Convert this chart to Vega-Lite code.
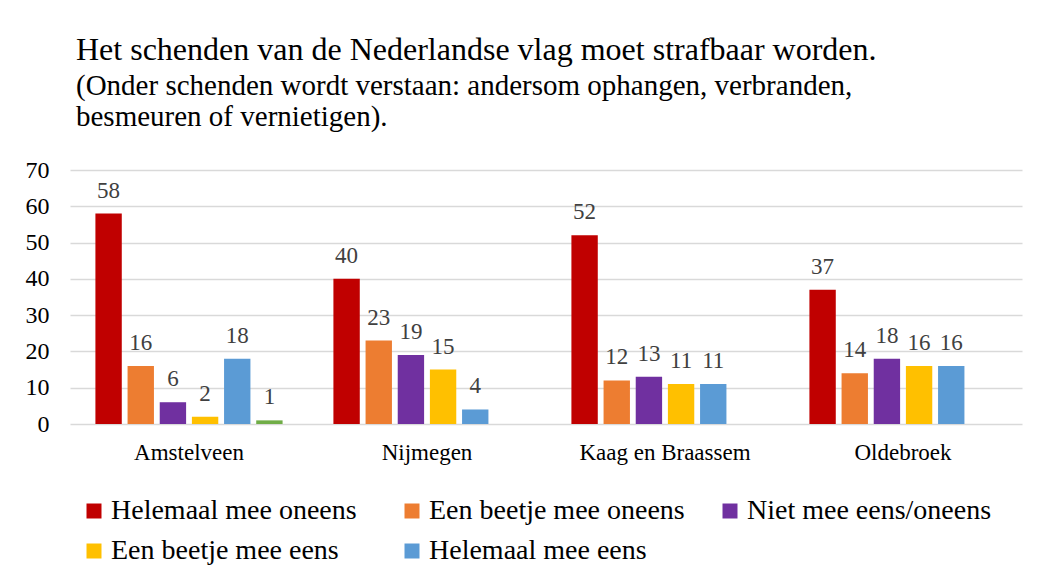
{
  "$schema": "https://vega.github.io/schema/vega-lite/v6.json",
  "autosize": {"type": "none"},
  "width": 952,
  "height": 254,
  "padding": {"left": 70, "top": 170, "right": 23, "bottom": 155},
  "background": "white",
  "title": {
    "text": "Het schenden van de Nederlandse vlag moet strafbaar worden.",
    "subtitle": ["(Onder schenden wordt verstaan: andersom ophangen, verbranden,", "besmeuren of vernietigen)."],
    "anchor": "start",
    "dx": 51,
    "offset": 25,
    "font": "Liberation Serif, Times New Roman, serif",
    "fontSize": 32,
    "fontWeight": "normal",
    "color": "#000000",
    "subtitleFont": "Liberation Serif, Times New Roman, serif",
    "subtitleFontSize": 29,
    "subtitleColor": "#000000",
    "subtitleLineHeight": 31,
    "subtitlePadding": 5
  },
  "data": {
    "values": [
      {"gemeente": "Amstelveen", "categorie": "Helemaal mee oneens", "waarde": 58},
      {"gemeente": "Amstelveen", "categorie": "Een beetje mee oneens", "waarde": 16},
      {"gemeente": "Amstelveen", "categorie": "Niet mee eens/oneens", "waarde": 6},
      {"gemeente": "Amstelveen", "categorie": "Een beetje mee eens", "waarde": 2},
      {"gemeente": "Amstelveen", "categorie": "Helemaal mee eens", "waarde": 18},
      {"gemeente": "Amstelveen", "categorie": "Geen mening", "waarde": 1},
      {"gemeente": "Nijmegen", "categorie": "Helemaal mee oneens", "waarde": 40},
      {"gemeente": "Nijmegen", "categorie": "Een beetje mee oneens", "waarde": 23},
      {"gemeente": "Nijmegen", "categorie": "Niet mee eens/oneens", "waarde": 19},
      {"gemeente": "Nijmegen", "categorie": "Een beetje mee eens", "waarde": 15},
      {"gemeente": "Nijmegen", "categorie": "Helemaal mee eens", "waarde": 4},
      {"gemeente": "Kaag en Braassem", "categorie": "Helemaal mee oneens", "waarde": 52},
      {"gemeente": "Kaag en Braassem", "categorie": "Een beetje mee oneens", "waarde": 12},
      {"gemeente": "Kaag en Braassem", "categorie": "Niet mee eens/oneens", "waarde": 13},
      {"gemeente": "Kaag en Braassem", "categorie": "Een beetje mee eens", "waarde": 11},
      {"gemeente": "Kaag en Braassem", "categorie": "Helemaal mee eens", "waarde": 11},
      {"gemeente": "Oldebroek", "categorie": "Helemaal mee oneens", "waarde": 37},
      {"gemeente": "Oldebroek", "categorie": "Een beetje mee oneens", "waarde": 14},
      {"gemeente": "Oldebroek", "categorie": "Niet mee eens/oneens", "waarde": 18},
      {"gemeente": "Oldebroek", "categorie": "Een beetje mee eens", "waarde": 16},
      {"gemeente": "Oldebroek", "categorie": "Helemaal mee eens", "waarde": 16}
    ]
  },
  "encoding": {
    "x": {
      "field": "gemeente",
      "type": "nominal",
      "sort": ["Amstelveen", "Nijmegen", "Kaag en Braassem", "Oldebroek"],
      "scale": {"paddingInner": 0.2, "paddingOuter": 0.1},
      "axis": {
        "title": null,
        "labelAngle": 0,
        "labelFont": "Liberation Serif, Times New Roman, serif",
        "labelFontSize": 23,
        "labelColor": "#000000",
        "labelPadding": 17,
        "ticks": false,
        "domain": false
      }
    },
    "xOffset": {
      "field": "categorie",
      "type": "nominal",
      "scale": {
        "domain": ["Helemaal mee oneens", "Een beetje mee oneens", "Niet mee eens/oneens", "Een beetje mee eens", "Helemaal mee eens", "Geen mening"],
        "paddingInner": 0.18,
        "paddingOuter": 0.05
      }
    },
    "y": {
      "field": "waarde",
      "type": "quantitative",
      "scale": {"domain": [0, 70], "nice": false},
      "axis": {
        "title": null,
        "values": [0, 10, 20, 30, 40, 50, 60, 70],
        "labelFont": "Liberation Serif, Times New Roman, serif",
        "labelFontSize": 24,
        "labelColor": "#000000",
        "labelPadding": 21,
        "ticks": false,
        "domain": false,
        "gridColor": "#d9d9d9",
        "gridWidth": 1.5
      }
    }
  },
  "layer": [
    {
      "mark": {"type": "bar"},
      "encoding": {
        "color": {
          "field": "categorie",
          "type": "nominal",
          "scale": {
            "domain": ["Helemaal mee oneens", "Een beetje mee oneens", "Niet mee eens/oneens", "Een beetje mee eens", "Helemaal mee eens", "Geen mening"],
            "range": ["#C00000", "#ED7D31", "#7030A0", "#FFC000", "#5B9BD5", "#70AD47"]
          },
          "legend": {
            "title": null,
            "values": ["Helemaal mee oneens", "Een beetje mee oneens", "Niet mee eens/oneens", "Een beetje mee eens", "Helemaal mee eens"],
            "orient": "none",
            "legendX": 10,
            "legendY": 327,
            "direction": "horizontal",
            "columns": 3,
            "gridAlign": "all",
            "columnPadding": 31,
            "rowPadding": 12,
            "symbolType": "square",
            "symbolSize": 225,
            "symbolStrokeWidth": 0,
            "labelFont": "Liberation Serif, Times New Roman, serif",
            "labelFontSize": 28,
            "labelColor": "#000000",
            "labelOffset": 3,
            "labelLimit": 400
          }
        }
      }
    },
    {
      "mark": {
        "type": "text",
        "baseline": "alphabetic",
        "dy": -16,
        "font": "Liberation Serif, Times New Roman, serif",
        "fontSize": 23,
        "color": "#404040"
      },
      "encoding": {
        "text": {"field": "waarde", "type": "quantitative"}
      }
    }
  ],
  "config": {
    "view": {"stroke": null}
  }
}
